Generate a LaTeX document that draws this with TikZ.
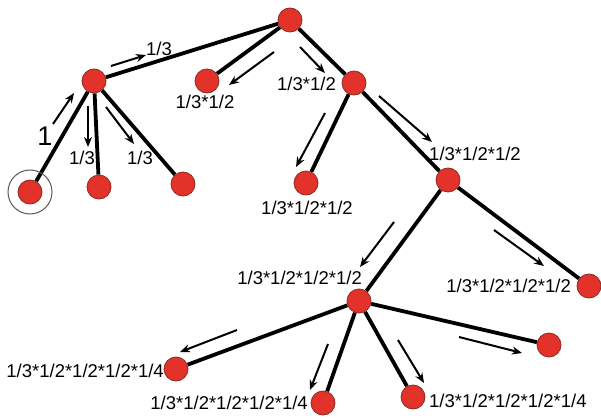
\documentclass[tikz,border=0pt]{standalone}
\usepackage{fontspec}
\setmainfont{Liberation Sans}
\usetikzlibrary{arrows.meta,backgrounds}
\definecolor{nodered}{HTML}{E2322A}
\definecolor{nodeedge}{HTML}{8E2A22}
\tikzset{
  dot/.style={circle,fill=nodered,draw=nodeedge,line width=0.8pt,minimum size=24pt,inner sep=0pt},
  edge/.style={line width=3.8pt,black},
  flow/.style={line width=2pt,-{Stealth[length=10pt,width=8pt]}},
  lab/.style={font=\fontsize{18.5}{21}\selectfont,inner sep=0pt},
}
\begin{document}
\begin{tikzpicture}[x=1pt,y=-1pt]
\useasboundingbox (0,0) rectangle (601,417);
% nodes
\node[dot] (T) at (290,20) {};
\node[dot] (A) at (94,81) {};
\node[dot] (B) at (207,81) {};
\node[dot] (C) at (354,83) {};
\node[dot] (L1) at (30,192) {};
\node[dot] (L2) at (99,187) {};
\node[dot] (L3) at (183,184) {};
\node[dot] (D) at (306,183) {};
\node[dot] (E) at (448,180) {};
\node[dot] (F) at (359,301) {};
\node[dot] (G) at (589,286) {};
\node[dot] (H1) at (176,369) {};
\node[dot] (H2) at (323,403) {};
\node[dot] (H3) at (413,397) {};
\node[dot] (H4) at (549,345) {};
\node[circle,draw=black!65,line width=1pt,minimum size=44pt,inner sep=0pt] (ring) at (L1) {};
% edges
\begin{pgfonlayer}{background}
\draw[edge] (T) -- (A);
\draw[edge] (T) -- (B);
\draw[edge] (T) -- (C);
\draw[edge] (A) -- (L1);
\draw[edge] (A) -- (L2);
\draw[edge] (A) -- (L3);
\draw[edge] (C) -- (D);
\draw[edge] (C) -- (E);
\draw[edge] (E) -- (F);
\draw[edge] (E) -- (G);
\draw[edge] (F) -- (H1);
\draw[edge] (F) -- (H2);
\draw[edge] (F) -- (H3);
\draw[edge] (F) -- (H4);
\end{pgfonlayer}
% flow arrows
\coordinate (a1s) at (53,124); \coordinate (a1e) at (74,93);
\coordinate (a2s) at (111,66); \coordinate (a2e) at (146,55);
\coordinate (a3s) at (88,106); \coordinate (a3e) at (88,147);
\coordinate (a4s) at (106,107); \coordinate (a4e) at (134,144);
\coordinate (a5s) at (274,52); \coordinate (a5e) at (229,85);
\coordinate (a6s) at (300,47); \coordinate (a6e) at (325,73);
\coordinate (a7s) at (325,113); \coordinate (a7e) at (296,167);
\coordinate (a8s) at (379,96); \coordinate (a8e) at (432,142);
\coordinate (a9s) at (394,222); \coordinate (a9e) at (360,267);
\coordinate (a10s) at (494,230); \coordinate (a10e) at (544,266);
\coordinate (a11s) at (237,330); \coordinate (a11e) at (180,352);
\coordinate (a12s) at (328,344); \coordinate (a12e) at (310,390);
\coordinate (a13s) at (398,340); \coordinate (a13e) at (424,383);
\coordinate (a14s) at (459,337); \coordinate (a14e) at (522,353);
\foreach \i in {1,...,14} \draw[flow] (a\i s) -- (a\i e);
% labels
\node[lab,font=\fontsize{27}{29}\selectfont] (t1) at (45,136) {1};
\node[lab] (t2) at (159,49) {1/3};
\node[lab] (t3) at (82,158) {1/3};
\node[lab] (t4) at (140,158) {1/3};
\node[lab] (t5) at (205,102) {1/3*1/2};
\node[lab,anchor=east] (t6) at (336,84) {1/3*1/2};
\node[lab] (t7) at (307,208) {1/3*1/2*1/2};
\node[lab] (t8) at (475,154) {1/3*1/2*1/2};
\node[lab,anchor=east] (t9) at (362,278) {1/3*1/2*1/2*1/2};
\node[lab,anchor=east] (t10) at (571,286) {1/3*1/2*1/2*1/2};
\node[lab,anchor=east] (t11) at (164,371) {1/3*1/2*1/2*1/2*1/4};
\node[lab,anchor=east] (t12) at (308,403) {1/3*1/2*1/2*1/2*1/4};
\node[lab,anchor=west] (t13) at (429,401) {1/3*1/2*1/2*1/2*1/4};
\end{tikzpicture}
\end{document}
